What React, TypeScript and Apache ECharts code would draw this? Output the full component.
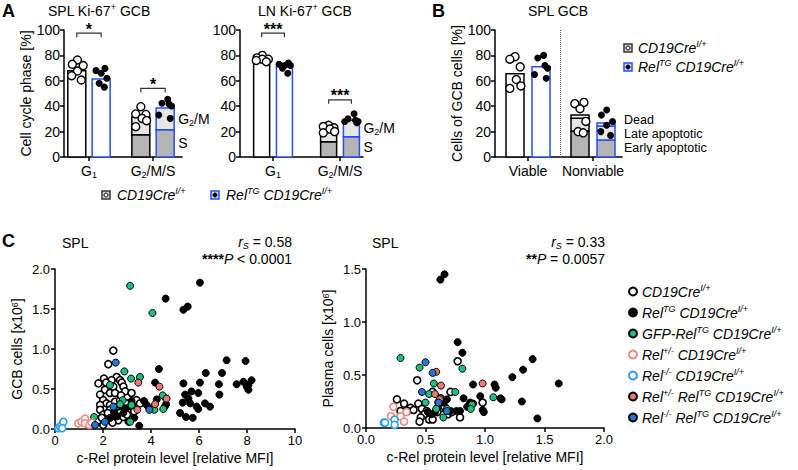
import React, { useEffect, useRef } from 'react';
import * as echarts from 'echarts';

const FONT = '"Liberation Sans", Arial, Helvetica, sans-serif';
const BLUE = '#2450f2';
const DARK = '#b4b4b4';
const LIGHT = '#e6e6e6';
const WHITE = '#ffffff';

// ---------- Panel A : cell cycle (means: [CD19Cre, RelTG CD19Cre]) ----------
const cycleCategories = ['G1', 'G2/M/S'];
const splG1Mean = [68, 61.5];
const splG2msMean = [31.5, 38.5];
const splSMean = [17.5, 21.5];
const splG1Ctrl = [76.4, 73, 72, 67.7, 64, 60.6];
const splG1Tg = [69.8, 68, 66, 62, 58, 55];
const splG2msCtrl = [39.6, 33.9, 33.5, 30.4, 28.6, 23.9];
const splG2msTg = [45.4, 42.3, 41.7, 40.2, 33, 30.4];

const lnG1Mean = [76.5, 71];
const lnG2msMean = [22, 29];
const lnSMean = [12, 16];
const lnG1Ctrl = [80, 78, 77, 77, 76, 75];
const lnG1Tg = [74, 73, 72, 72, 70, 66];
const lnG2msCtrl = [25, 24, 23, 22, 20, 19];
const lnG2msTg = [34, 30, 29, 28, 28, 27];

// ---------- Panel B : viability ----------
const viabCategories = ['Viable', 'Nonviable'];
const viableMean = [65.5, 71];
const earlyMean = [20.5, 13.4];
const lateMean = [10, 11];
const deadMean = [2.5, 2.4];
const viableCtrl = [79, 77, 71, 61, 56, 54];
const viableTg = [80, 78, 72, 70, 65, 62];
const nonviableCtrl = [43, 42, 38, 28, 20, 19];
const nonviableTg = [37, 33, 28, 25, 20, 17];

// jitter patterns (fraction of category)
const jitA = [0.01, -0.07, 0.1, 0.01, -0.08, 0.07];
const jitB = [0.06, -0.08, 0.0, 0.09, -0.03, 0.05];
const jitC = [0.0, -0.08, 0.08, 0.02, 0.09, -0.08];
const jitD = [0.04, -0.05, 0.06, 0.1, -0.1, 0.08];

// significance brackets: [category, y level, stars]
const splBrackets: [number, number, string][] = [[0, 97.5, '*'], [1, 54, '*']];
const lnBrackets: [number, number, string][] = [[0, 97.5, '***'], [1, 45, '***']];

// ---------- Panel C : scatter ----------
const gcbCtrl = [[2.43,0.98],[2.22,0.81],[2.57,0.65],[2.36,0.61],[2.04,0.63],[1.81,0.57],[2.13,0.58],[2.71,0.61],[2.78,0.58],[2.43,0.53],[2.85,0.53],[2.08,0.49],[2.29,0.45],[2.5,0.45],[1.88,0.43],[2.92,0.47],[3.19,0.45],[2.01,0.36],[2.15,0.32],[2.29,0.3],[2.5,0.34],[2.71,0.36],[1.88,0.3],[1.88,0.24],[2.99,0.32],[3.19,0.3],[3.26,0.26],[3.4,0.36],[2.29,0.24],[2.5,0.22],[2.71,0.22],[2.92,0.24],[2.01,0.18],[2.15,0.13],[2.29,0.11],[2.57,0.15],[1.88,0.09],[2.01,0.05],[1.81,0.11],[2.64,0.11],[2.85,0.15],[3.54,0.32],[2.2,0.2],[2.6,0.28],[3.0,0.18],[2.4,0.08],[1.95,0.14],[2.75,0.42],[3.3,0.22]];
const gcbTg = [[6.04,1.83],[4.61,1.63],[5.35,1.49],[5.53,1.53],[7.15,0.86],[7.94,0.85],[6.28,0.7],[6.96,0.7],[4.33,0.75],[4.17,0.58],[5.35,0.57],[6.04,0.58],[6.83,0.56],[7.57,0.56],[7.85,0.59],[8.06,0.55],[8.19,0.61],[8.06,0.49],[7.99,0.53],[6.85,0.43],[5.42,0.43],[5.69,0.47],[5.97,0.45],[5.56,0.38],[5.63,0.32],[6.25,0.32],[6.46,0.28],[5.9,0.28],[5.97,0.25],[5.32,0.33],[5.21,0.2],[5.46,0.15],[5.74,0.14],[3.71,0.35],[3.82,0.3],[3.93,0.26],[4.24,0.37],[4.63,0.31],[4.63,0.38],[4.58,0.28],[3.51,0.04],[3.19,0.35],[2.71,0.29],[2.46,0.22],[2.85,0.2],[3.06,0.09],[2.6,0.16],[2.95,0.26],[3.3,0.14],[2.3,0.14]];
const gcbGfp = [[3.13,1.79],[4.06,1.45],[2.89,0.72],[3.17,0.63],[3.54,0.65],[2.29,0.55],[4.49,0.42],[4.51,0.25],[4.14,0.24],[2.82,0.36],[2.71,0.31],[3.13,0.09],[1.63,0.15],[3.19,0.3]];
const gcbHet = [[0.97,0.07],[1.1,0.09],[1.25,0.13],[1.25,0.07],[1.43,0.05],[1.53,0.08]];
const gcbKo = [[0.14,0.01],[0.21,0.03],[0.28,0.05],[0.35,0.09],[0.3,0.01]];
const gcbHetTg = [[3.47,0.58],[4.35,0.53],[4.65,0.38],[4.17,0.31],[3.43,0.24]];
const gcbKoTg = [[2.53,0.83],[3.93,0.24],[1.67,0.05],[2.08,0.09],[2.43,0.28]];

const pcCtrl = [[0.77,0.63],[0.43,0.45],[0.71,0.34],[0.56,0.34],[0.26,0.27],[0.32,0.23],[0.375,0.19],[0.35,0.16],[0.29,0.16],[0.44,0.23],[0.47,0.18],[0.51,0.16],[0.49,0.13],[0.46,0.1],[0.45,0.06],[0.53,0.08],[0.56,0.08],[0.6,0.15],[0.64,0.19],[0.61,0.24],[0.69,0.13],[0.72,0.15],[0.79,0.1],[0.98,0.24],[0.4,0.17],[0.625,0.28],[0.66,0.2]];
const pcTg = [[0.625,1.4],[0.66,1.45],[0.77,0.81],[0.81,0.71],[1.4,0.65],[1.23,0.48],[1.32,0.55],[1.62,0.42],[1.08,0.41],[1.09,0.38],[0.9,0.41],[0.96,0.3],[0.82,0.28],[1.13,0.28],[1.14,0.27],[1.31,0.25],[0.98,0.17],[0.99,0.15],[1.44,0.09],[0.875,0.24],[0.85,0.2],[0.79,0.16],[0.76,0.16],[0.68,0.27],[0.65,0.24],[0.6,0.19],[0.58,0.15],[0.55,0.13],[0.71,0.16],[0.9,0.23],[0.52,0.15]];
const pcGfp = [[0.29,0.66],[0.45,0.57],[0.81,0.56],[0.57,0.42],[0.75,0.34],[0.53,0.32],[1.07,0.29],[0.89,0.22],[0.88,0.18],[0.5,0.24],[0.68,0.18],[0.65,0.1],[0.59,0.18]];
const pcHet = [[0.23,0.2],[0.21,0.11],[0.29,0.11],[0.34,0.15],[0.32,0.06]];
const pcKo = [[0.15,0.05],[0.16,0.05],[0.24,0.08],[0.24,0.03]];
const pcHetTg = [[0.59,0.53],[0.63,0.4],[0.98,0.42],[0.58,0.32],[0.62,0.27]];
const pcKoTg = [[0.5,0.62],[0.56,0.52],[0.47,0.34],[0.61,0.24],[0.68,0.16]];

const genotypeNames = ['CD19Cre', 'RelTG CD19Cre', 'GFP-RelTG CD19Cre', 'Rel+/- CD19Cre', 'Rel-/- CD19Cre', 'Rel+/- RelTG CD19Cre', 'Rel-/- RelTG CD19Cre'];
const genotypeRich: Record<string, string> = {
  'CD19Cre': '{i|CD19Cre}{s|I/+}',
  'RelTG CD19Cre': '{i|Rel}{s|TG}{i| CD19Cre}{s|I/+}',
  'GFP-RelTG CD19Cre': '{i|GFP-Rel}{s|TG}{i| CD19Cre}{s|I/+}',
  'Rel+/- CD19Cre': '{i|Rel}{s|+/-}{i| CD19Cre}{s|I/+}',
  'Rel-/- CD19Cre': '{i|Rel}{s|-/-}{i| CD19Cre}{s|I/+}',
  'Rel+/- RelTG CD19Cre': '{i|Rel}{s|+/-}{i| Rel}{s|TG}{i| CD19Cre}{s|I/+}',
  'Rel-/- RelTG CD19Cre': '{i|Rel}{s|-/-}{i| Rel}{s|TG}{i| CD19Cre}{s|I/+}',
};
const genotypeStyle = [
  { fill: WHITE, stroke: '#000' },
  { fill: '#000', stroke: '#000' },
  { fill: '#1cc07c', stroke: '#000' },
  { fill: WHITE, stroke: '#f08a80' },
  { fill: WHITE, stroke: '#2e9ef5' },
  { fill: '#ec7b6e', stroke: '#000' },
  { fill: '#1f78d4', stroke: '#000' },
];
const gcbSets = [gcbCtrl, gcbTg, gcbGfp, gcbHet, gcbKo, gcbHetTg, gcbKoTg];
const pcSets = [pcCtrl, pcTg, pcGfp, pcHet, pcKo, pcHetTg, pcKoTg];

// ---------- styles ----------
const RICH: any = {
  n: { fontFamily: FONT, fontSize: 14, color: '#000', lineHeight: 17 },
  t: { fontFamily: FONT, fontSize: 12.5, color: '#000', lineHeight: 12 },
  i: { fontFamily: FONT, fontSize: 14, fontStyle: 'italic', color: '#000', lineHeight: 17 },
  sup: { fontFamily: FONT, fontSize: 9, color: '#000', verticalAlign: 'top', lineHeight: 10 },
  s: { fontFamily: FONT, fontSize: 9, fontStyle: 'italic', color: '#000', verticalAlign: 'top', lineHeight: 10 },
  sub: { fontFamily: FONT, fontSize: 9, color: '#000', verticalAlign: 'bottom', lineHeight: 9 },
  isub: { fontFamily: FONT, fontSize: 9, fontStyle: 'italic', color: '#000', verticalAlign: 'bottom', lineHeight: 9 },
  b: { fontFamily: FONT, fontSize: 14, fontWeight: 'bold', color: '#000', lineHeight: 17 },
};

const axisLine = { show: true, onZero: false, lineStyle: { color: '#000', width: 1.5 } };
const axisTick = { show: true, length: 4, lineStyle: { color: '#000', width: 1.5 } };

type Seg = { x: number; y0: number; y1: number; fill: string; stroke: string; label?: string; gap?: number; dy?: number };

function barSeries(axisIdx: number, segs: Seg[], barW: number) {
  return {
    type: 'custom', xAxisIndex: axisIdx, yAxisIndex: axisIdx, z: 2, silent: true,
    data: segs.map((s) => [s.x, s.y0, s.y1]),
    renderItem: (params: any, api: any) => {
      const s = segs[params.dataIndex];
      const top = api.coord([api.value(0), api.value(2)]);
      const bot = api.coord([api.value(0), api.value(1)]);
      const children: any[] = [{
        type: 'rect',
        shape: { x: top[0] - barW / 2, y: top[1], width: barW, height: bot[1] - top[1] },
        style: { fill: s.fill, stroke: s.stroke, lineWidth: 1.5 },
      }];
      if (s.label) {
        children.push({
          type: 'text', x: top[0] + barW / 2 + (s.gap ?? 4), y: (top[1] + bot[1]) / 2 + (s.dy ?? 0),
          style: { text: s.label, rich: RICH, fill: '#000', font: `14px ${FONT}`, align: 'left', verticalAlign: 'middle', textAlign: 'left', textVerticalAlign: 'middle' },
        });
      }
      return { type: 'group', children };
    },
  };
}

function bracketSeries(axisIdx: number, items: [number, number, string][], off: number) {
  return {
    type: 'custom', xAxisIndex: axisIdx, yAxisIndex: axisIdx, z: 4, silent: true,
    data: items.map((b) => [b[0] - off, b[0] + off, b[1]]),
    renderItem: (params: any, api: any) => {
      const b = items[params.dataIndex];
      const p1 = api.coord([api.value(0), api.value(2)]);
      const p2 = api.coord([api.value(1), api.value(2)]);
      return {
        type: 'group', children: [
          { type: 'polyline', shape: { points: [[p1[0], p1[1] + 4], [p1[0], p1[1]], [p2[0], p2[1]], [p2[0], p2[1] + 4]] }, style: { stroke: '#333', lineWidth: 1.2, fill: null } },
          { type: 'text', x: (p1[0] + p2[0]) / 2, y: p1[1] - 4, style: { text: b[2], fill: '#000', font: `bold 16px ${FONT}`, align: 'center', verticalAlign: 'middle', textAlign: 'center', textVerticalAlign: 'middle' } },
        ],
      };
    },
  };
}

function dotSeries(axisIdx: number, groups: { cat: number; vals: number[]; jit: number[] }[], open: boolean, off: number, size: number) {
  const data: number[][] = [];
  groups.forEach((g) => g.vals.forEach((v, k) => data.push([g.cat + off + g.jit[k], v])));
  return {
    type: 'scatter', xAxisIndex: axisIdx, yAxisIndex: axisIdx, z: 3, silent: true,
    symbol: 'circle', symbolSize: size, data,
    itemStyle: open ? { color: WHITE, borderColor: '#000', borderWidth: 1.4, opacity: 1 } : { color: '#000', borderColor: '#000', borderWidth: 0, opacity: 1 },
  };
}

function catXAxis(grid: number, min: number, max: number, fmt: (v: number) => string) {
  return {
    gridIndex: grid, type: 'value', min, max,
    axisLine, axisTick: { ...axisTick, customValues: [0, 1] },
    splitLine: { show: false },
    axisLabel: { customValues: [0, 1], formatter: fmt, rich: RICH, margin: 5, color: '#000', fontFamily: FONT, fontSize: 14 },
  };
}

function pctYAxis(grid: number, name: string) {
  return {
    gridIndex: grid, type: 'value', min: 0, max: 100, interval: 20,
    axisLine, axisTick, splitLine: { show: false },
    axisLabel: { color: '#000', fontFamily: FONT, fontSize: 14, margin: 4 },
    name, nameLocation: 'middle', nameGap: 30,
    nameTextStyle: { color: '#000', fontFamily: FONT, fontSize: 14 },
  };
}

const cycleFmt = (v: number) => {
  const c = cycleCategories[Math.round(v)];
  return c === 'G1' ? '{n|G}{sub|1}' : '{n|G}{sub|2}{n|/M/S}';
};
const viabFmt = (v: number) => `{n|${viabCategories[Math.round(v)]}}`;

function cyclePanel(axisIdx: number, off: number, barW: number, g1: number[], g2: number[], sM: number[], dots: number[][], brackets: [number, number, string][]) {
  const segs: Seg[] = [
    { x: 0 - off, y0: 0, y1: g1[0], fill: WHITE, stroke: '#000' },
    { x: 0 + off, y0: 0, y1: g1[1], fill: WHITE, stroke: BLUE },
    { x: 1 - off, y0: 0, y1: sM[0], fill: DARK, stroke: '#000' },
    { x: 1 - off, y0: sM[0], y1: g2[0], fill: LIGHT, stroke: '#000' },
    { x: 1 + off, y0: 0, y1: sM[1], fill: DARK, stroke: BLUE, label: '{n|S}' },
    { x: 1 + off, y0: sM[1], y1: g2[1], fill: LIGHT, stroke: BLUE, label: '{n|G}{sub|2}{n|/M}' },
  ];
  return [
    barSeries(axisIdx, segs, barW),
    dotSeries(axisIdx, [{ cat: 0, vals: dots[0], jit: jitA }, { cat: 1, vals: dots[2], jit: jitC }], true, -off, 8),
    dotSeries(axisIdx, [{ cat: 0, vals: dots[1], jit: jitB }, { cat: 1, vals: dots[3], jit: jitD }], false, off, 7),
    bracketSeries(axisIdx, brackets, off),
  ];
}

function viabPanel(axisIdx: number, off: number, barW: number) {
  const segs: Seg[] = [
    { x: 0 - off, y0: 0, y1: viableMean[0], fill: WHITE, stroke: '#000' },
    { x: 0 + off, y0: 0, y1: viableMean[1], fill: WHITE, stroke: BLUE },
  ];
  [0, 1].forEach((g) => {
    const x = 1 + (g === 0 ? -off : off);
    const stroke = g === 0 ? '#000' : BLUE;
    const e = earlyMean[g], l = e + lateMean[g], d = l + deadMean[g];
    const lab = g === 1;
    segs.push({ x, y0: 0, y1: e, fill: DARK, stroke, label: lab ? '{t|Early apoptotic}' : undefined, gap: 9, dy: 0 });
    segs.push({ x, y0: e, y1: l, fill: LIGHT, stroke, label: lab ? '{t|Late apoptotic}' : undefined, gap: 9, dy: 1 });
    segs.push({ x, y0: l, y1: d, fill: '#f2f2f2', stroke, label: lab ? '{t|Dead}' : undefined, gap: 9, dy: -4.5 });
  });
  const divider = {
    type: 'scatter', xAxisIndex: axisIdx, yAxisIndex: axisIdx, data: [], silent: true,
    markLine: { silent: true, symbol: 'none', label: { show: false }, lineStyle: { color: '#555', type: 'dotted', width: 1 }, data: [{ xAxis: 0.5 }] },
  };
  return [
    barSeries(axisIdx, segs, barW),
    dotSeries(axisIdx, [{ cat: 0, vals: viableCtrl, jit: jitC }, { cat: 1, vals: nonviableCtrl, jit: jitB }], true, -off, 8),
    dotSeries(axisIdx, [{ cat: 0, vals: viableTg, jit: jitD }, { cat: 1, vals: nonviableTg, jit: jitA }], false, off, 7),
    divider,
  ];
}

function scatterAxes(grid: number, xMax: number, xInt: number, yMax: number, yName: string, xDec: number) {
  const lbl = { color: '#000', fontFamily: FONT, fontSize: 13, margin: 5 };
  return {
    x: {
      gridIndex: grid, type: 'value', min: 0, max: xMax, interval: xInt,
      axisLine, axisTick, splitLine: { show: false },
      axisLabel: { ...lbl, formatter: (v: number) => v.toFixed(xDec) },
      name: 'c-Rel protein level [relative MFI]', nameLocation: 'middle', nameGap: 22,
      nameTextStyle: { color: '#000', fontFamily: FONT, fontSize: 14 },
    },
    y: {
      gridIndex: grid, type: 'value', min: 0, max: yMax, interval: 0.5,
      axisLine, axisTick, splitLine: { show: false },
      axisLabel: { ...lbl, formatter: (v: number) => v.toFixed(1) },
      name: yName, nameLocation: 'middle', nameGap: 31,
      nameTextStyle: { color: '#000', fontFamily: FONT, fontSize: 14, rich: RICH },
    },
  };
}

function scatterSeries(axisIdx: number, sets: number[][][]) {
  return sets.map((pts, k) => ({
    type: 'scatter', name: genotypeNames[k], xAxisIndex: axisIdx, yAxisIndex: axisIdx,
    symbol: 'circle', symbolSize: 7, data: pts, z: 3 + (k === 0 ? 0 : 1),
    itemStyle: { color: genotypeStyle[k].fill, borderColor: genotypeStyle[k].stroke, borderWidth: genotypeStyle[k].fill === WHITE ? 1.6 : 1, opacity: 1 },
  }));
}

function txt(x: number, y: number, text: string, opts: any = {}) {
  return {
    type: 'text', x, y, silent: true,
    style: {
      text, rich: RICH, fill: '#000', font: opts.font || `14px ${FONT}`,
      align: opts.align || 'left', textAlign: opts.align || 'left',
      verticalAlign: 'middle', textVerticalAlign: 'middle',
    },
  };
}

function boxMarker(cx: number, cy: number, stroke: string, filledDot: boolean) {
  return {
    type: 'group', silent: true, children: [
      { type: 'rect', shape: { x: cx - 4, y: cy - 4, width: 8, height: 8 }, style: { fill: '#d8d8d8', stroke, lineWidth: 1.5 } },
      { type: 'circle', shape: { cx, cy, r: 2 }, style: { fill: filledDot ? '#000' : WHITE, stroke: '#000', lineWidth: 1 } },
    ],
  };
}

export default function App() {
  const ref = useRef<HTMLDivElement>(null);
  useEffect(() => {
    if (!ref.current) return;
    const chart = echarts.init(ref.current, undefined, { renderer: 'svg' });
    const cA = scatterAxes(3, 10, 2, 2, 'GCB cells [x10{sup|6}]', 0);
    const cB = scatterAxes(4, 2, 0.5, 1.5, 'Plasma cells [x10{sup|6}]', 1);
    const option: any = {
      animation: false,
      textStyle: { fontFamily: FONT },
      grid: [
        { left: 64, top: 30, width: 118, height: 127 },
        { left: 240, top: 30, width: 123, height: 127 },
        { left: 495, top: 30, width: 127, height: 127 },
        { left: 55, top: 269, width: 240, height: 160 },
        { left: 366, top: 269, width: 238, height: 159 },
      ],
      xAxis: [
        catXAxis(0, -0.39, 1.453, cycleFmt),
        catXAxis(1, -0.493, 1.343, cycleFmt),
        catXAxis(2, -0.508, 1.446, viabFmt),
        cA.x, cB.x,
      ],
      yAxis: [
        pctYAxis(0, 'Cell cycle phase [%]'),
        { ...pctYAxis(1, ''), name: '' },
        pctYAxis(2, 'Cells of GCB cells [%]'),
        cA.y, cB.y,
      ],
      legend: {
        data: genotypeNames, orient: 'vertical', left: 628, top: 283, padding: 0,
        itemWidth: 8, itemHeight: 8, itemGap: 5.5, selectedMode: false, icon: 'circle',
        formatter: (name: string) => genotypeRich[name],
        textStyle: { rich: RICH, color: '#000' },
      },
      series: [
        ...cyclePanel(0, 0.19, 18, splG1Mean, splG2msMean, splSMean, [splG1Ctrl, splG1Tg, splG2msCtrl, splG2msTg], splBrackets),
        ...cyclePanel(1, 0.17, 16, lnG1Mean, lnG2msMean, lnSMean, [lnG1Ctrl, lnG1Tg, lnG2msCtrl, lnG2msTg], lnBrackets),
        ...viabPanel(2, 0.2, 18),
        ...scatterSeries(3, gcbSets),
        ...scatterSeries(4, pcSets),
      ],
      graphic: [
        txt(2, 11, 'A', { font: `bold 18px ${FONT}` }),
        txt(432, 11, 'B', { font: `bold 18px ${FONT}` }),
        txt(2, 241, 'C', { font: `bold 18px ${FONT}` }),
        txt(99, 11, '{n|SPL Ki-67}{sup|+}{n| GCB}', { align: 'center' }),
        txt(305, 11, '{n|LN Ki-67}{sup|+}{n| GCB}', { align: 'center' }),
        txt(558, 11, '{n|SPL GCB}', { align: 'center' }),
        boxMarker(106, 195, '#333', false),
        txt(117, 195, genotypeRich['CD19Cre']),
        boxMarker(215, 195, BLUE, true),
        txt(226, 195, genotypeRich['RelTG CD19Cre']),
        boxMarker(628, 48, '#333', false),
        txt(638, 48, genotypeRich['CD19Cre']),
        boxMarker(628, 67, BLUE, true),
        txt(638, 67, genotypeRich['RelTG CD19Cre']),
        txt(62, 243, '{n|SPL}'),
        txt(372, 243, '{n|SPL}'),
        txt(292, 242, '{i|r}{isub|S}{n| = 0.58}', { align: 'right' }),
        txt(292, 259, '{b|****}{i|P}{n| < 0.0001}', { align: 'right' }),
        txt(605, 242, '{i|r}{isub|S}{n| = 0.33}', { align: 'right' }),
        txt(605, 259, '{b|**}{i|P}{n| = 0.0057}', { align: 'right' }),
      ],
    };
    chart.setOption(option);
    return () => chart.dispose();
  }, []);
  return <div ref={ref} style={{ position: 'fixed', left: 0, top: 0, width: 798, height: 470, background: '#fff' }} />;
}
